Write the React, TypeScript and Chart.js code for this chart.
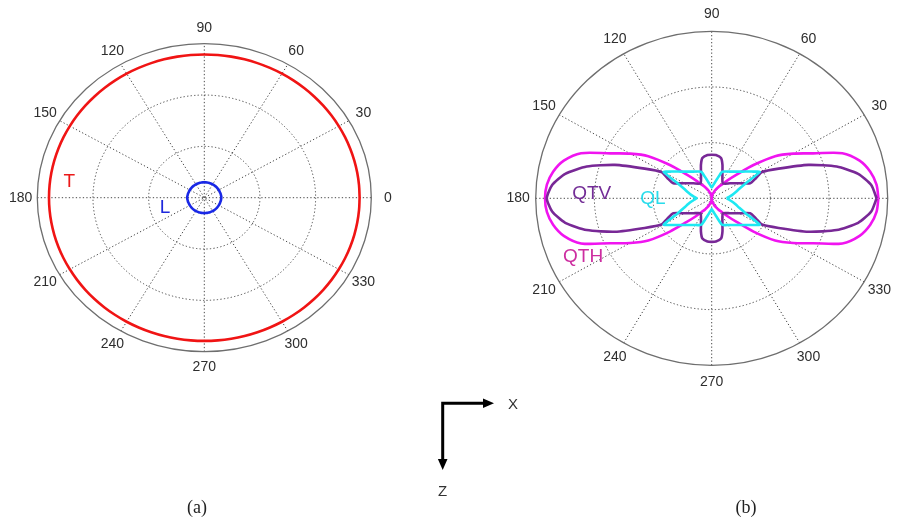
import { useEffect, useRef } from "react";
import { Chart, registerables } from "chart.js";

Chart.register(...registerables);

// ---------------- data ----------------
const ANGLE_TICKS = [0, 30, 60, 90, 120, 150, 180, 210, 240, 270, 300, 330];
const RING_VALUES = [1 / 3, 2 / 3, 1];

const ANGLES = [
  0, 5, 10, 15, 20, 25, 30, 35, 40, 45, 50, 55, 60, 65, 70, 75, 80, 85, 90,
  95, 100, 105, 110, 115, 120, 125, 130, 135, 140, 145, 150, 155, 160, 165, 170, 175, 180,
  185, 190, 195, 200, 205, 210, 215, 220, 225, 230, 235, 240, 245, 250, 255, 260, 265, 270,
  275, 280, 285, 290, 295, 300, 305, 310, 315, 320, 325, 330, 335, 340, 345, 350, 355,
];

// panel (a)
const T_R = [
  0.93, 0.93, 0.93, 0.93, 0.93, 0.93, 0.93, 0.93, 0.93, 0.93, 0.93, 0.93, 0.93, 0.93, 0.93, 0.93, 0.93, 0.93, 0.93,
  0.93, 0.93, 0.93, 0.93, 0.93, 0.93, 0.93, 0.93, 0.93, 0.93, 0.93, 0.93, 0.93, 0.93, 0.93, 0.93, 0.93, 0.93,
  0.93, 0.93, 0.93, 0.93, 0.93, 0.93, 0.93, 0.93, 0.93, 0.93, 0.93, 0.93, 0.93, 0.93, 0.93, 0.93, 0.93, 0.93,
  0.93, 0.93, 0.93, 0.93, 0.93, 0.93, 0.93, 0.93, 0.93, 0.93, 0.93, 0.93, 0.93, 0.93, 0.93, 0.93, 0.93,
];
const L_R = [
  0.102, 0.102, 0.101, 0.101, 0.1, 0.1, 0.1, 0.1, 0.1, 0.1, 0.1, 0.1, 0.1, 0.1, 0.1, 0.1, 0.1, 0.1, 0.1,
  0.1, 0.1, 0.1, 0.1, 0.1, 0.1, 0.1, 0.1, 0.1, 0.1, 0.1, 0.1, 0.1, 0.1, 0.101, 0.101, 0.102, 0.102,
  0.102, 0.101, 0.101, 0.1, 0.1, 0.1, 0.1, 0.1, 0.1, 0.1, 0.1, 0.1, 0.1, 0.1, 0.1, 0.1, 0.1, 0.1,
  0.1, 0.1, 0.1, 0.1, 0.1, 0.1, 0.1, 0.1, 0.1, 0.1, 0.1, 0.1, 0.1, 0.1, 0.1, 0.101, 0.101, 0.102,
];

// panel (b)
const QTH_R = [
  0.947, 0.94, 0.915, 0.87, 0.79, 0.636, 0.535, 0.44, 0.31, 0.2, 0.14, 0.1, 0.08, 0.06, 0.045, 0.03, 0.02, 0.01, 0,
  0.01, 0.02, 0.03, 0.045, 0.06, 0.08, 0.1, 0.14, 0.2, 0.31, 0.44, 0.535, 0.636, 0.79, 0.87, 0.915, 0.94, 0.947,
  0.94, 0.915, 0.87, 0.79, 0.636, 0.535, 0.44, 0.31, 0.2, 0.14, 0.1, 0.08, 0.06, 0.045, 0.03, 0.02, 0.01, 0,
  0.01, 0.02, 0.03, 0.045, 0.06, 0.08, 0.1, 0.14, 0.2, 0.31, 0.44, 0.535, 0.636, 0.79, 0.87, 0.915, 0.94,
];

// QTV has cusps, so it is traced as an ordered list of (angle, radius) points
const QTV_ANGLES = [
  0, 5, 10, 15, 20, 25, 28.8, 25.8, 22.4, 29.2, 40.9, 54.6, 66.4, 73, 77.6, 84.7, 90,
  95.3, 102.4, 107, 113.6, 125.4, 139.1, 150.8, 157.6, 154.2, 151.2, 155, 160, 165, 170, 175, 180,
  185, 190, 195, 200, 205, 208.8, 205.8, 202.4, 209.2, 220.9, 234.6, 246.4, 253, 257.6, 264.7, 270,
  275.3, 282.4, 287, 293.6, 305.4, 319.1, 330.8, 337.6, 334.2, 331.2, 335, 340, 345, 350, 355,
];
const QTV_R = [
  0.937, 0.91, 0.845, 0.735, 0.585, 0.42, 0.326, 0.28, 0.236, 0.184, 0.137, 0.11, 0.152, 0.209, 0.247, 0.26, 0.261,
  0.26, 0.247, 0.209, 0.152, 0.11, 0.137, 0.184, 0.236, 0.28, 0.326, 0.42, 0.585, 0.735, 0.845, 0.91, 0.937,
  0.91, 0.845, 0.735, 0.585, 0.42, 0.326, 0.28, 0.236, 0.184, 0.137, 0.11, 0.152, 0.209, 0.247, 0.26, 0.261,
  0.26, 0.247, 0.209, 0.152, 0.11, 0.137, 0.184, 0.236, 0.28, 0.326, 0.42, 0.585, 0.735, 0.845, 0.91,
];
const QL_R = [
  0.085, 0.1, 0.119, 0.14, 0.167, 0.214, 0.315, 0.279, 0.249, 0.226, 0.209, 0.195, 0.185, 0.177, 0.168, 0.121, 0.093, 0.076, 0.065,
  0.076, 0.093, 0.121, 0.168, 0.177, 0.185, 0.195, 0.209, 0.226, 0.249, 0.279, 0.315, 0.214, 0.167, 0.14, 0.119, 0.1, 0.085,
  0.1, 0.119, 0.14, 0.167, 0.214, 0.315, 0.279, 0.249, 0.226, 0.209, 0.195, 0.185, 0.177, 0.168, 0.121, 0.093, 0.076, 0.065,
  0.076, 0.093, 0.121, 0.168, 0.177, 0.185, 0.195, 0.209, 0.226, 0.249, 0.279, 0.315, 0.214, 0.167, 0.14, 0.119, 0.1,
];

// ---------------- layout (pixels) ----------------
const W = 902;
const H = 524;
const PANEL_A = { cx: 204.3, cy: 197.7, rx: 167, ry: 154 };
const PANEL_B = { cx: 711.7, cy: 198.3, rx: 176, ry: 167 };

function rangeX(p: { cx: number; rx: number }) {
  return { min: -p.cx / p.rx, max: (W - p.cx) / p.rx };
}
function rangeY(p: { cy: number; ry: number }) {
  return { min: -(H - p.cy) / p.ry, max: p.cy / p.ry };
}

function toXY(angles: number[], radii: number[]) {
  const pts = angles.map((a, i) => {
    const t = (a * Math.PI) / 180;
    return { x: radii[i] * Math.cos(t), y: radii[i] * Math.sin(t) };
  });
  pts.push({ ...pts[0] });
  return pts;
}

const PANELS = [
  { x: "xa", y: "ya" },
  { x: "xb", y: "yb" },
];

const CURVE_LABELS = [
  { text: "T", x: -0.808, y: 0.104, xId: "xa", yId: "ya", color: "rgb(235,25,25)" },
  { text: "L", x: -0.235, y: -0.067, xId: "xa", yId: "ya", color: "rgb(30,40,220)" },
  { text: "QTV", x: -0.682, y: 0.03, xId: "xb", yId: "yb", color: "rgb(115,45,150)" },
  { text: "QL", x: -0.334, y: -0.004, xId: "xb", yId: "yb", color: "rgb(40,220,235)" },
  { text: "QTH", x: -0.731, y: -0.35, xId: "xb", yId: "yb", color: "rgb(205,45,160)" },
];

const polarPlugin = {
  id: "polarGrid",
  beforeDatasetsDraw(chart: any) {
    const ctx = chart.ctx as CanvasRenderingContext2D;
    PANELS.forEach((p) => {
      const xs = chart.scales[p.x];
      const ys = chart.scales[p.y];
      const cx = xs.getPixelForValue(0);
      const cy = ys.getPixelForValue(0);
      const rx = xs.getPixelForValue(1) - cx;
      const ry = cy - ys.getPixelForValue(1);
      ctx.save();
      // dotted rings
      ctx.strokeStyle = "#4a4a4a";
      ctx.lineWidth = 1;
      ctx.setLineDash([1.3, 2.2]);
      RING_VALUES.forEach((r) => {
        if (r >= 1) return;
        ctx.beginPath();
        ctx.ellipse(cx, cy, rx * r, ry * r, 0, 0, Math.PI * 2);
        ctx.stroke();
      });
      // dotted spokes
      ANGLE_TICKS.forEach((a) => {
        if (a >= 180) return;
        const t = (a * Math.PI) / 180;
        ctx.beginPath();
        ctx.moveTo(xs.getPixelForValue(-Math.cos(t)), ys.getPixelForValue(-Math.sin(t)));
        ctx.lineTo(xs.getPixelForValue(Math.cos(t)), ys.getPixelForValue(Math.sin(t)));
        ctx.stroke();
      });
      // outer ring
      ctx.setLineDash([]);
      ctx.strokeStyle = "#6e6e6e";
      ctx.lineWidth = 1.3;
      ctx.beginPath();
      ctx.ellipse(cx, cy, rx, ry, 0, 0, Math.PI * 2);
      ctx.stroke();
      // angle labels
      ctx.fillStyle = "#2e2e2e";
      ctx.font = "14px 'Liberation Sans', Arial, sans-serif";
      ctx.textAlign = "center";
      ctx.textBaseline = "middle";
      ANGLE_TICKS.forEach((a) => {
        const t = (a * Math.PI) / 180;
        ctx.fillText(
          String(a),
          xs.getPixelForValue(1.1 * Math.cos(t)),
          ys.getPixelForValue(1.1 * Math.sin(t))
        );
      });
      ctx.restore();
    });
  },
  afterDatasetsDraw(chart: any) {
    const ctx = chart.ctx as CanvasRenderingContext2D;
    ctx.save();
    ctx.textAlign = "center";
    ctx.textBaseline = "middle";
    ctx.font = "19px 'Liberation Sans', Arial, sans-serif";
    CURVE_LABELS.forEach((l) => {
      ctx.fillStyle = l.color;
      ctx.fillText(l.text, chart.scales[l.xId].getPixelForValue(l.x), chart.scales[l.yId].getPixelForValue(l.y));
    });

    // axes sketch
    ctx.strokeStyle = "#000";
    ctx.fillStyle = "#000";
    ctx.lineWidth = 3;
    ctx.lineCap = "butt";
    ctx.beginPath();
    ctx.moveTo(441.2, 403.3);
    ctx.lineTo(485, 403.3);
    ctx.moveTo(442.7, 402);
    ctx.lineTo(442.7, 461);
    ctx.stroke();
    ctx.beginPath();
    ctx.moveTo(483, 398.5);
    ctx.lineTo(494, 403.3);
    ctx.lineTo(483, 408.1);
    ctx.closePath();
    ctx.fill();
    ctx.beginPath();
    ctx.moveTo(437.9, 459);
    ctx.lineTo(442.7, 470);
    ctx.lineTo(447.5, 459);
    ctx.closePath();
    ctx.fill();

    ctx.fillStyle = "#333";
    ctx.font = "15px 'Liberation Sans', Arial, sans-serif";
    ctx.fillText("X", 513, 405);
    ctx.fillText("Z", 442.7, 491.5);

    ctx.fillStyle = "#222";
    ctx.font = "18px 'Liberation Serif', 'Times New Roman', serif";
    ctx.fillText("(a)", 197, 508);
    ctx.fillText("(b)", 746, 508);
    ctx.restore();
  },
};

export default function App() {
  const ref = useRef<HTMLCanvasElement | null>(null);

  useEffect(() => {
    const canvas = ref.current;
    if (!canvas) return;
    const line = (label: string, angles: number[], radii: number[], color: string, xId: string, yId: string, order: number, tension: number) => ({
      label,
      data: toXY(angles, radii),
      showLine: true,
      borderColor: color,
      backgroundColor: color,
      borderWidth: 2.6,
      pointRadius: 0,
      fill: false,
      tension,
      xAxisID: xId,
      yAxisID: yId,
      order,
      clip: false as any,
    });

    const chart = new Chart(canvas, {
      type: "scatter",
      data: {
        datasets: [
          line("T", ANGLES, T_R, "rgb(240,20,20)", "xa", "ya", 1, 0.4),
          line("L", ANGLES, L_R, "rgb(25,40,230)", "xa", "ya", 2, 0.4),
          line("QL", ANGLES, QL_R, "rgb(30,232,242)", "xb", "yb", 1, 0.15),
          line("QTV", QTV_ANGLES, QTV_R, "rgb(120,40,150)", "xb", "yb", 2, 0.2),
          line("QTH", ANGLES, QTH_R, "rgb(240,20,240)", "xb", "yb", 3, 0.3),
        ] as any,
      },
      options: {
        animation: false,
        responsive: false,
        devicePixelRatio: 1,
        events: [],
        layout: { padding: 0 },
        plugins: { legend: { display: false }, tooltip: { enabled: false } },
        scales: {
          xa: { type: "linear", display: false, ...rangeX(PANEL_A) },
          ya: { type: "linear", display: false, ...rangeY(PANEL_A) },
          xb: { type: "linear", display: false, ...rangeX(PANEL_B) },
          yb: { type: "linear", display: false, ...rangeY(PANEL_B) },
        } as any,
      },
      plugins: [polarPlugin],
    });
    return () => chart.destroy();
  }, []);

  return (
    <div style={{ position: "absolute", left: 0, top: 0, width: W, height: H, background: "#fff" }}>
      <canvas ref={ref} width={W} height={H} style={{ display: "block", width: W, height: H }} />
    </div>
  );
}
